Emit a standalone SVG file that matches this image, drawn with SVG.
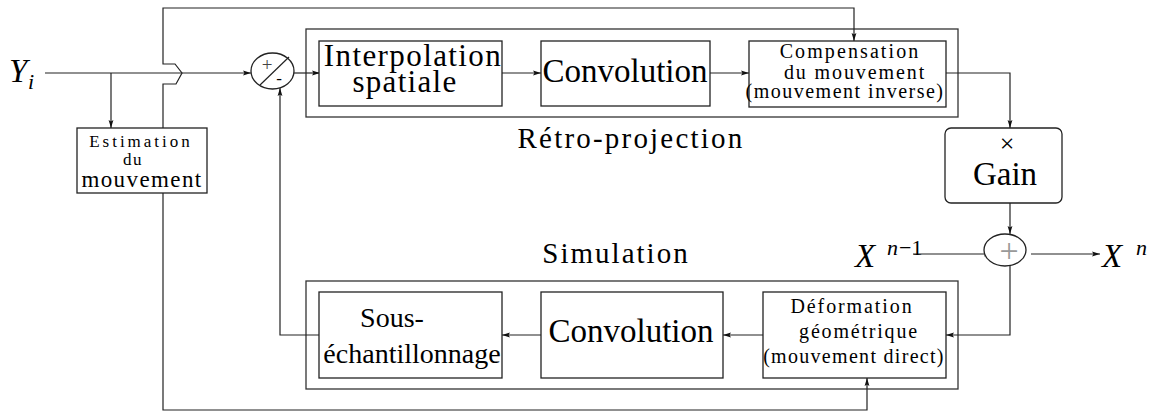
<svg xmlns="http://www.w3.org/2000/svg" width="1154" height="414" viewBox="0 0 1154 414">
<defs>
<marker id="ar" viewBox="0 0 8 6" refX="8" refY="3" markerWidth="8" markerHeight="6" markerUnits="userSpaceOnUse" orient="auto">
<path d="M0,0.6 L8,3 L0,5.4 L1.5,3 Z" fill="#111"/>
</marker>
</defs>
<rect width="1154" height="414" fill="#fff"/>
<g id="retro-group">
<rect x="306" y="29" width="652" height="88" fill="none" stroke="#333" stroke-width="1.3"/>
<text font-family="Liberation Serif, Times New Roman, serif" x="631" y="148" font-size="29" letter-spacing="2.2" text-anchor="middle">Rétro-projection</text>
</g>
<g id="sim-group">
<rect x="306" y="281" width="652" height="108" fill="none" stroke="#333" stroke-width="1.3"/>
<text font-family="Liberation Serif, Times New Roman, serif" x="616" y="263" font-size="29" letter-spacing="2" text-anchor="middle">Simulation</text>
</g>
<g id="connectors" fill="none" stroke="#222" stroke-width="1.2">
<path d="M45 73 H251" marker-end="url(#ar)"/>
<path d="M111 73 V128" marker-end="url(#ar)"/>
<path d="M163 128 V84 H176 L182 73 L175 64 H163 V8 H854 V41" marker-end="url(#ar)"/>
<path d="M163 193 V410 H867 V378" marker-end="url(#ar)"/>
<path d="M294 73 H320" marker-end="url(#ar)"/>
<path d="M502 73 H541" marker-end="url(#ar)"/>
<path d="M710 73 H749" marker-end="url(#ar)"/>
<path d="M946 73 H1010 V128" marker-end="url(#ar)"/>
<path d="M1010 203 V234" marker-end="url(#ar)"/>
<path d="M913 254 H992" marker-end="url(#ar)"/>
<path d="M1031 254 H1100" marker-end="url(#ar)"/>
<path d="M1010 266 V335 H946" marker-end="url(#ar)"/>
<path d="M763 335 H723" marker-end="url(#ar)"/>
<path d="M541 335 H502" marker-end="url(#ar)"/>
<path d="M319 335 H280 V88" marker-end="url(#ar)"/>
</g>
<g id="input-yi">
<text font-family="Liberation Serif, Times New Roman, serif" font-style="italic" x="9" y="82" font-size="33">Y</text>
<text font-family="Liberation Serif, Times New Roman, serif" font-style="italic" x="28" y="89" font-size="22">i</text>
</g>
<g id="estimation">
<rect x="77" y="128" width="130" height="65" fill="#fff" stroke="#222" stroke-width="1.3"/>
<text font-family="Liberation Serif, Times New Roman, serif" x="141" y="147" font-size="17" letter-spacing="3" text-anchor="middle">Estimation</text>
<text font-family="Liberation Serif, Times New Roman, serif" x="133" y="165" font-size="17" letter-spacing="1.5" text-anchor="middle">du</text>
<text font-family="Liberation Serif, Times New Roman, serif" x="142" y="187" font-size="23" letter-spacing="1.4" text-anchor="middle">mouvement</text>
</g>
<g id="sum1">
<ellipse cx="272.5" cy="71" rx="21.5" ry="18" fill="#fff" stroke="#222" stroke-width="1.3"/>
<line x1="260" y1="85" x2="289" y2="57" stroke="#222" stroke-width="1.2"/>
<text font-family="Liberation Serif, Times New Roman, serif" x="267" y="71" font-size="19" fill="#444" text-anchor="middle">+</text>
<text font-family="Liberation Serif, Times New Roman, serif" x="279" y="84" font-size="17" text-anchor="middle">-</text>
</g>
<g id="interpolation">
<rect x="319" y="41" width="183" height="65" fill="#fff" stroke="#222" stroke-width="1.3"/>
<text font-family="Liberation Serif, Times New Roman, serif" x="413" y="66" font-size="31" letter-spacing="1.4" text-anchor="middle">Interpolation</text>
<text font-family="Liberation Serif, Times New Roman, serif" x="405" y="92" font-size="31" letter-spacing="1.3" text-anchor="middle">spatiale</text>
</g>
<g id="convolution-top">
<rect x="541" y="41" width="169" height="65" fill="#fff" stroke="#222" stroke-width="1.3"/>
<text font-family="Liberation Serif, Times New Roman, serif" x="625" y="82" font-size="33" text-anchor="middle">Convolution</text>
</g>
<g id="compensation">
<rect x="749" y="41" width="197" height="66" fill="#fff" stroke="#222" stroke-width="1.3"/>
<text font-family="Liberation Serif, Times New Roman, serif" x="850" y="58" font-size="20" letter-spacing="2.1" text-anchor="middle">Compensation</text>
<text font-family="Liberation Serif, Times New Roman, serif" x="855" y="79" font-size="20" letter-spacing="1.9" text-anchor="middle">du mouvement</text>
<text font-family="Liberation Serif, Times New Roman, serif" x="845" y="98" font-size="20" letter-spacing="1.5" text-anchor="middle">(mouvement inverse)</text>
</g>
<g id="gain">
<rect x="945" y="128" width="117" height="75" rx="6" fill="#fff" stroke="#222" stroke-width="1.3"/>
<text font-family="Liberation Serif, Times New Roman, serif" x="1007" y="152" font-size="26" text-anchor="middle">×</text>
<text font-family="Liberation Serif, Times New Roman, serif" x="1005" y="185" font-size="33" text-anchor="middle">Gain</text>
</g>
<g id="sum2">
<ellipse cx="1005" cy="250" rx="21" ry="16" fill="#fff" stroke="#222" stroke-width="1.3"/>
<text font-family="Liberation Serif, Times New Roman, serif" x="1009" y="262" font-size="34" fill="#999" text-anchor="middle">+</text>
</g>
<g id="xn1">
<text font-family="Liberation Serif, Times New Roman, serif" font-style="italic" x="855" y="267" font-size="33">X</text>
<text font-family="Liberation Serif, Times New Roman, serif" font-style="italic" x="887" y="255" font-size="22">n</text>
<text font-family="Liberation Serif, Times New Roman, serif" x="899" y="255" font-size="22">−1</text>
</g>
<g id="xn">
<text font-family="Liberation Serif, Times New Roman, serif" font-style="italic" x="1102" y="267" font-size="33">X</text>
<text font-family="Liberation Serif, Times New Roman, serif" font-style="italic" x="1136" y="255" font-size="22">n</text>
</g>
<g id="sous-echantillonnage">
<rect x="319" y="292" width="183" height="86" fill="#fff" stroke="#222" stroke-width="1.3"/>
<text font-family="Liberation Serif, Times New Roman, serif" x="392" y="327" font-size="28" text-anchor="middle">Sous-</text>
<text font-family="Liberation Serif, Times New Roman, serif" x="412" y="363" font-size="28" text-anchor="middle">échantillonnage</text>
</g>
<g id="convolution-bottom">
<rect x="541" y="292" width="182" height="86" fill="#fff" stroke="#222" stroke-width="1.3"/>
<text font-family="Liberation Serif, Times New Roman, serif" x="631" y="342" font-size="33" text-anchor="middle">Convolution</text>
</g>
<g id="deformation">
<rect x="763" y="292" width="183" height="86" fill="#fff" stroke="#222" stroke-width="1.3"/>
<text font-family="Liberation Serif, Times New Roman, serif" x="852" y="313" font-size="20" letter-spacing="1.9" text-anchor="middle">Déformation</text>
<text font-family="Liberation Serif, Times New Roman, serif" x="859" y="338" font-size="20" letter-spacing="1.8" text-anchor="middle">géométrique</text>
<text font-family="Liberation Serif, Times New Roman, serif" x="854" y="363" font-size="20" letter-spacing="1.3" text-anchor="middle">(mouvement direct)</text>
</g>
</svg>
